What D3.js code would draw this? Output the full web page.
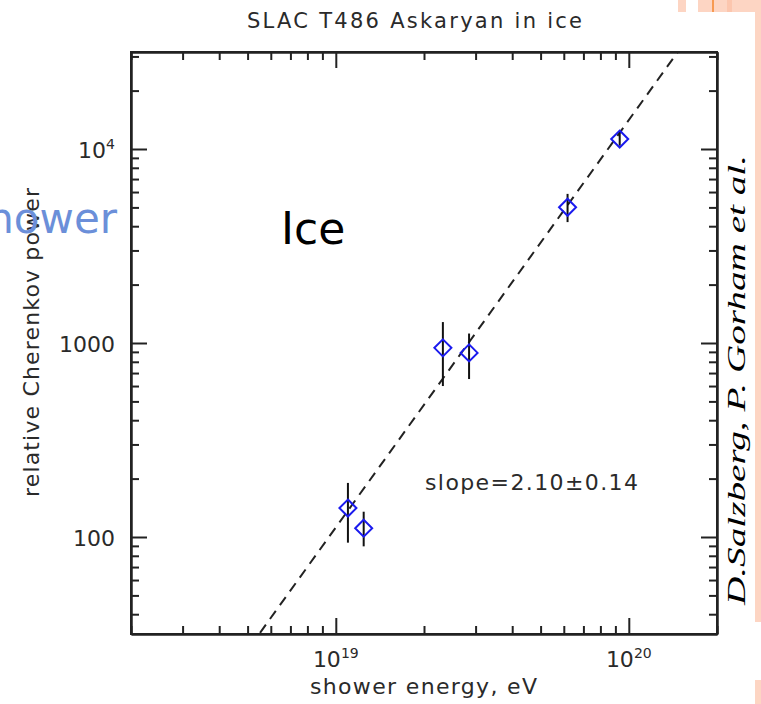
<!DOCTYPE html>
<html>
<head>
<meta charset="utf-8">
<script src="https://cdn.jsdelivr.net/npm/d3@7"></script>
<style>
  html, body { margin: 0; padding: 0; background: #fff; }
  svg { display: block; }
</style>
</head>
<body>
<svg id="chart" width="761" height="704"></svg>
<script>
// Shower energy (eV) of each measurement
const energies = [1.10e19, 1.245e19, 2.32e19, 2.85e19, 6.18e19, 9.31e19];
// Relative Cherenkov power and its error range
const powers   = [141, 111, 944, 889, 5010, 11250];
const powerLow = [93.5, 89.5, 600, 652, 4200, 10400];
const powerHigh= [190, 135, 1282, 1119, 5870, 12400];

// Power-law fit: power = fitNorm * (E / fitPivot)^fitSlope
const fitSlope = 2.10;
const fitSlopeErr = 0.14;
const fitNorm = 112;
const fitPivot = 1e19;

// Axis ticks and labels
const xMajorTicks = [1e19, 1e20];
const xTickBase = ["10", "10"];
const xTickExp = ["19", "20"];
const yMajorTicks = [100, 1000, 1e4];
const yTickBase = ["100", "1000", "10"];
const yTickExp = ["", "", "4"];

const titleText = "SLAC  T486  Askaryan  in  ice";
const xTitle = "shower  energy,  eV";
const yTitle = "relative  Cherenkov  power";

const svg = d3.select("#chart");
const L = 131, R = 717, T = 52, B = 634;

const x = d3.scaleLog().domain([2e18, 2e20]).range([L, R]);
const y = d3.scaleLog().domain([Math.pow(10, 1.5), Math.pow(10, 4.5)]).range([B, T]);

// minor ticks: 2..9 x 10^k inside each domain
function minorTicks(scale) {
  const [a, b] = scale.domain();
  const out = [];
  for (let k = Math.floor(Math.log10(a)); k <= Math.ceil(Math.log10(b)); k++) {
    for (let m = 2; m <= 9; m++) {
      const v = m * Math.pow(10, k);
      if (v >= a * 0.999 && v <= b * 1.001) out.push(v);
    }
  }
  return out;
}
const xMinor = minorTicks(x);
const yMinor = minorTicks(y);

// ---- slide decorations on the right edge ----
const pink = "#fdd5c3";
const deco = svg.append("g");
deco.append("rect").attr("x", 678).attr("y", 0).attr("width", 8).attr("height", 12).attr("fill", pink);
deco.append("rect").attr("x", 698).attr("y", 0).attr("width", 63).attr("height", 12).attr("fill", pink);
deco.append("rect").attr("x", 727).attr("y", 0).attr("width", 5).attr("height", 12).attr("fill", "#fcc6ae");
deco.append("rect").attr("x", 712).attr("y", 0).attr("width", 2).attr("height", 12).attr("fill", "#f79a52");
deco.append("rect").attr("x", 755).attr("y", 12).attr("width", 6).attr("height", 610).attr("fill", pink);
deco.append("rect").attr("x", 755).attr("y", 680).attr("width", 6).attr("height", 24).attr("fill", pink);

// ---- axes ----
const axisColor = "#222";
function styleAxis(g) {
  g.selectAll("path.domain").attr("stroke", axisColor).attr("stroke-width", 2);
  g.selectAll(".tick line").attr("stroke", axisColor).attr("stroke-width", 2);
  g.selectAll(".tick text").remove();
}
function addAxis(gen, transform) {
  const g = svg.append("g").attr("transform", transform).call(gen);
  styleAxis(g);
  return g;
}
// bottom
addAxis(d3.axisBottom(x).tickValues(xMajorTicks).tickSize(-16).tickSizeOuter(0).tickFormat(""), `translate(0,${B})`);
addAxis(d3.axisBottom(x).tickValues(xMinor).tickSize(-8).tickSizeOuter(0).tickFormat(""), `translate(0,${B})`);
// top
addAxis(d3.axisTop(x).tickValues(xMajorTicks).tickSize(-16).tickSizeOuter(0).tickFormat(""), `translate(0,${T})`);
addAxis(d3.axisTop(x).tickValues(xMinor).tickSize(-8).tickSizeOuter(0).tickFormat(""), `translate(0,${T})`);
// left
addAxis(d3.axisLeft(y).tickValues(yMajorTicks).tickSize(-16).tickSizeOuter(0).tickFormat(""), `translate(${L},0)`);
addAxis(d3.axisLeft(y).tickValues(yMinor).tickSize(-8).tickSizeOuter(0).tickFormat(""), `translate(${L},0)`);
// right
addAxis(d3.axisRight(y).tickValues(yMajorTicks).tickSize(-16).tickSizeOuter(0).tickFormat(""), `translate(${R},0)`);
addAxis(d3.axisRight(y).tickValues(yMinor).tickSize(-8).tickSizeOuter(0).tickFormat(""), `translate(${R},0)`);

svg.append("rect").attr("x", L).attr("y", T).attr("width", R - L).attr("height", B - T)
  .attr("fill", "none").attr("stroke", axisColor).attr("stroke-width", 2);

const font = "'DejaVu Sans', sans-serif";
const textColor = "#2a2a2a";

// tick labels with superscript exponents
xMajorTicks.forEach((v, i) => {
  const t = svg.append("text").attr("x", x(v)).attr("y", 667)
    .attr("text-anchor", "middle").attr("font-family", font).attr("font-size", 22).attr("fill", textColor);
  t.append("tspan").text(xTickBase[i]);
  t.append("tspan").attr("dy", -9).attr("font-size", 14).text(xTickExp[i]);
});
yMajorTicks.forEach((v, i) => {
  const t = svg.append("text").attr("x", 115).attr("y", y(v) + 9)
    .attr("text-anchor", "end").attr("font-family", font).attr("font-size", 22).attr("fill", textColor);
  t.append("tspan").text(yTickBase[i]);
  if (yTickExp[i]) t.append("tspan").attr("dy", -9).attr("font-size", 14).text(yTickExp[i]);
});

// titles
svg.append("text").attr("x", 247).attr("y", 28).attr("font-family", font).attr("font-size", 21)
  .attr("fill", textColor).attr("textLength", 335).attr("lengthAdjust", "spacing").text(titleText);
svg.append("text").attr("x", 310).attr("y", 694).attr("font-family", font).attr("font-size", 22)
  .attr("fill", textColor).attr("textLength", 227).attr("lengthAdjust", "spacing").text(xTitle);
svg.append("text").attr("transform", `translate(39,497) rotate(-90)`).attr("font-family", font).attr("font-size", 22)
  .attr("fill", textColor).attr("textLength", 309).attr("lengthAdjust", "spacing").text(yTitle);

// ---- plot contents ----
svg.append("clipPath").attr("id", "plotClip").append("rect")
  .attr("x", L).attr("y", T).attr("width", R - L).attr("height", B - T);
const plot = svg.append("g").attr("clip-path", "url(#plotClip)");

const fitE = x.domain();
const fitLine = d3.line().x(d => x(d)).y(d => y(fitNorm * Math.pow(d / fitPivot, fitSlope)));
plot.append("path").datum(fitE).attr("d", fitLine)
  .attr("fill", "none").attr("stroke", "#222").attr("stroke-width", 2).attr("stroke-dasharray", "10,7");

const pts = energies.map((e, i) => ({ e, p: powers[i], lo: powerLow[i], hi: powerHigh[i] }));
plot.selectAll("line.err").data(pts).join("line").attr("class", "err")
  .attr("x1", d => x(d.e)).attr("x2", d => x(d.e))
  .attr("y1", d => y(d.lo)).attr("y2", d => y(d.hi))
  .attr("stroke", "#111").attr("stroke-width", 2);
const h = 8.5;
plot.selectAll("path.pt").data(pts).join("path").attr("class", "pt")
  .attr("d", d => {
    const cx = x(d.e), cy = y(d.p);
    return `M${cx},${cy - h}L${cx + h},${cy}L${cx},${cy + h}L${cx - h},${cy}Z`;
  })
  .attr("fill", "none").attr("stroke", "#1a1aee").attr("stroke-width", 2);

svg.append("text").attr("x", 425).attr("y", 490).attr("font-family", font).attr("font-size", 22)
  .attr("fill", textColor).attr("textLength", 213).attr("lengthAdjust", "spacing")
  .text(`slope=${fitSlope.toFixed(2)}\u00b1${fitSlopeErr.toFixed(2)}`);

// ---- slide annotations ----
svg.append("text").attr("x", 281).attr("y", 244).attr("font-family", font).attr("font-size", 44)
  .attr("fill", "#000").text("Ice");
svg.append("text").attr("x", 117).attr("y", 233).attr("text-anchor", "end").attr("font-family", font)
  .attr("font-size", 42).attr("fill", "#6b8fd9").text("Shower");
svg.append("text").attr("transform", "translate(745,380) rotate(-90)").attr("text-anchor", "middle")
  .attr("font-family", "'Liberation Serif', 'Times New Roman', serif").attr("font-style", "italic")
  .attr("font-size", 26).attr("fill", "#000")
  .attr("textLength", 450).attr("lengthAdjust", "spacingAndGlyphs")
  .text("D.Salzberg, P. Gorham et al.");
</script>
</body>
</html>
